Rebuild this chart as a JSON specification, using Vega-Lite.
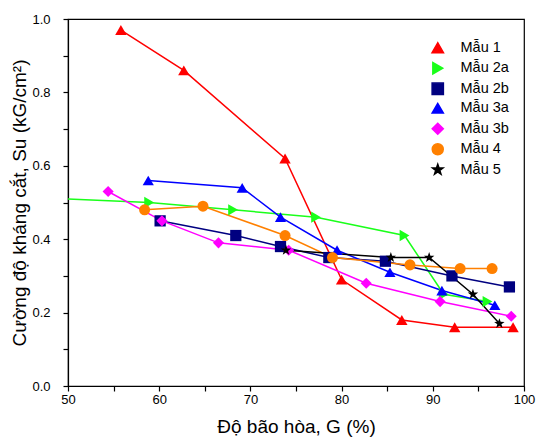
{
  "$schema": "https://vega.github.io/schema/vega-lite/v6.json",
  "width": 456,
  "height": 367,
  "autosize": "none",
  "padding": {"left": 68, "top": 19, "right": 14, "bottom": 53},
  "background": "white",
  "config": {
    "font": "Liberation Sans",
    "view": {"stroke": "black", "strokeWidth": 1.2},
    "axis": {"domainColor": "black", "labelColor": "black", "titleColor": "black", "grid": false, "labelFont": "Liberation Sans", "titleFont": "Liberation Sans", "labelFontSize": 13, "titleFontSize": 19, "titleFontWeight": "normal", "domainWidth": 1.2}
  },
  "data": {"values": [
    {"s": "Mẫu 1", "g": 55.8, "su": 0.97},
    {"s": "Mẫu 1", "g": 62.7, "su": 0.86},
    {"s": "Mẫu 1", "g": 73.8, "su": 0.62},
    {"s": "Mẫu 1", "g": 80.0, "su": 0.29},
    {"s": "Mẫu 1", "g": 86.6, "su": 0.18},
    {"s": "Mẫu 1", "g": 92.4, "su": 0.16},
    {"s": "Mẫu 1", "g": 98.8, "su": 0.16},
    {"s": "Mẫu 2a", "g": 45.0, "su": 0.515},
    {"s": "Mẫu 2a", "g": 58.9, "su": 0.50},
    {"s": "Mẫu 2a", "g": 68.1, "su": 0.48},
    {"s": "Mẫu 2a", "g": 77.2, "su": 0.46},
    {"s": "Mẫu 2a", "g": 86.9, "su": 0.41},
    {"s": "Mẫu 2a", "g": 91.2, "su": 0.25},
    {"s": "Mẫu 2a", "g": 96.0, "su": 0.23},
    {"s": "Mẫu 2b", "g": 60.1, "su": 0.45},
    {"s": "Mẫu 2b", "g": 68.4, "su": 0.41},
    {"s": "Mẫu 2b", "g": 73.3, "su": 0.38},
    {"s": "Mẫu 2b", "g": 78.6, "su": 0.35},
    {"s": "Mẫu 2b", "g": 84.8, "su": 0.34},
    {"s": "Mẫu 2b", "g": 92.1, "su": 0.30},
    {"s": "Mẫu 2b", "g": 98.4, "su": 0.27},
    {"s": "Mẫu 3a", "g": 58.8, "su": 0.56},
    {"s": "Mẫu 3a", "g": 69.1, "su": 0.54},
    {"s": "Mẫu 3a", "g": 73.3, "su": 0.46},
    {"s": "Mẫu 3a", "g": 79.5, "su": 0.37},
    {"s": "Mẫu 3a", "g": 85.3, "su": 0.31},
    {"s": "Mẫu 3a", "g": 91.0, "su": 0.26},
    {"s": "Mẫu 3a", "g": 96.8, "su": 0.22},
    {"s": "Mẫu 3b", "g": 54.4, "su": 0.53},
    {"s": "Mẫu 3b", "g": 60.3, "su": 0.45},
    {"s": "Mẫu 3b", "g": 66.5, "su": 0.39},
    {"s": "Mẫu 3b", "g": 74.2, "su": 0.37},
    {"s": "Mẫu 3b", "g": 82.7, "su": 0.28},
    {"s": "Mẫu 3b", "g": 90.8, "su": 0.23},
    {"s": "Mẫu 3b", "g": 98.6, "su": 0.19},
    {"s": "Mẫu 4", "g": 58.4, "su": 0.48},
    {"s": "Mẫu 4", "g": 64.8, "su": 0.49},
    {"s": "Mẫu 4", "g": 73.8, "su": 0.41},
    {"s": "Mẫu 4", "g": 79.0, "su": 0.35},
    {"s": "Mẫu 4", "g": 87.5, "su": 0.33},
    {"s": "Mẫu 4", "g": 93.0, "su": 0.32},
    {"s": "Mẫu 4", "g": 96.5, "su": 0.32},
    {"s": "Mẫu 5", "g": 73.9, "su": 0.37},
    {"s": "Mẫu 5", "g": 85.4, "su": 0.35},
    {"s": "Mẫu 5", "g": 89.6, "su": 0.35},
    {"s": "Mẫu 5", "g": 94.4, "su": 0.25},
    {"s": "Mẫu 5", "g": 97.3, "su": 0.17}
  ]},
  "layer": [
    {
      "mark": {"type": "line", "clip": true, "strokeWidth": 1.5},
      "encoding": {
        "x": {"field": "g", "type": "quantitative", "scale": {"domain": [50, 100], "nice": false, "zero": false},
          "axis": {"orient": "bottom", "title": "Độ bão hòa, G (%)", "tickCount": 10,
            "labelExpr": "datum.value % 10 === 0 ? datum.label : ''",
            "ticks": true, "tickSize": 5, "tickColor": "#000000", "tickWidth": 1.2,
            "labelPadding": 2, "titlePadding": 11, "labelFlush": false,
            "encode": {"ticks": {"update": {"y2": {"signal": "datum.value % 10 === 0 ? -5 : -3"}}}}}},
        "y": {"field": "su", "type": "quantitative", "scale": {"domain": [0, 1], "nice": false},
          "axis": {"orient": "left", "title": "Cường độ kháng cắt, Su (kG/cm²)", "tickCount": 10,
            "format": ".1f", "labelExpr": "round(datum.value*10) % 2 === 0 ? datum.label : ''",
            "ticks": true, "tickSize": 5, "tickColor": "#000000", "tickWidth": 1.2,
            "labelPadding": 13, "titlePadding": 2,
            "encode": {"ticks": {"update": {"x2": {"signal": "round(datum.value*10) % 2 === 0 ? 5 : 3"}}}}}},
        "stroke": {"field": "s", "type": "nominal",
          "scale": {"domain": ["Mẫu 1", "Mẫu 2a", "Mẫu 2b", "Mẫu 3a", "Mẫu 3b", "Mẫu 4", "Mẫu 5"],
            "range": ["#ff0000", "#1aff1a", "#000080", "#0000ff", "#ff00ff", "#ff8000", "#000000"]},
          "legend": {"orient": "none", "legendX": 362.5, "legendY": 21.5, "title": null, "padding": 0,
            "symbolSize": 100, "symbolStrokeWidth": 1.5, "symbolOpacity": 1,
            "labelFontSize": 14.5, "labelFont": "Liberation Sans", "labelColor": "black", "labelOffset": 15.5, "rowPadding": 2.5,
            "encode": {"symbols": {"update": {
              "shape": {"signal": "['M-3.7,0H3.7M0,-0.85L-1.2,0.75L1.2,0.75Z','M-3.7,0H3.7M0.9,0L-0.9,-1L-0.9,1Z','M-3.7,0H3.7M-0.8,-0.8H0.8V0.8H-0.8Z','M-3.7,0H3.7M0,-0.85L-1.2,0.75L1.2,0.75Z','M-3.7,0H3.7M-1,0L0,-1L1,0L0,1Z','M-3.7,0H3.7M0.9,0A0.9,0.9,0,1,1,-0.9,0A0.9,0.9,0,1,1,0.9,0Z','M-3.7,0H3.7M0,-1L0.235,-0.324L0.951,-0.309L0.380,0.124L0.588,0.809L0,0.4L-0.588,0.809L-0.380,0.124L-0.951,-0.309L-0.235,-0.324Z'][indexof(['Mẫu 1','Mẫu 2a','Mẫu 2b','Mẫu 3a','Mẫu 3b','Mẫu 4','Mẫu 5'], datum.value)]"},
              "fill": {"signal": "['#ff0000','#1aff1a','#000080','#0000ff','#ff00ff','#ff8000','#000000'][indexof(['Mẫu 1','Mẫu 2a','Mẫu 2b','Mẫu 3a','Mẫu 3b','Mẫu 4','Mẫu 5'], datum.value)]"},
              "stroke": {"signal": "['#ff0000','#1aff1a','#000080','#0000ff','#ff00ff','#ff8000','#000000'][indexof(['Mẫu 1','Mẫu 2a','Mẫu 2b','Mẫu 3a','Mẫu 3b','Mẫu 4','Mẫu 5'], datum.value)]"},
              "strokeWidth": {"value": 1.5},
              "strokeOpacity": {"value": 1},
              "fillOpacity": {"value": 1},
              "size": {"value": 100},
              "opacity": {"value": 1}
            }}}}}
      }
    },
    {
      "mark": {"type": "point", "clip": true, "filled": true, "opacity": 1, "strokeWidth": 0},
      "encoding": {
        "x": {"field": "g", "type": "quantitative"},
        "y": {"field": "su", "type": "quantitative"},
        "fill": {"field": "s", "type": "nominal",
          "scale": {"domain": ["Mẫu 1", "Mẫu 2a", "Mẫu 2b", "Mẫu 3a", "Mẫu 3b", "Mẫu 4", "Mẫu 5"],
            "range": ["#ff0000", "#1aff1a", "#000080", "#0000ff", "#ff00ff", "#ff8000", "#000000"]},
          "legend": null},
        "shape": {"field": "s", "type": "nominal",
          "scale": {"domain": ["Mẫu 1", "Mẫu 2a", "Mẫu 2b", "Mẫu 3a", "Mẫu 3b", "Mẫu 4", "Mẫu 5"],
            "range": ["triangle-up", "triangle-right", "square", "triangle-up", "diamond", "circle", "M0,-1L0.235,-0.324L0.951,-0.309L0.380,0.124L0.588,0.809L0,0.4L-0.588,0.809L-0.380,0.124L-0.951,-0.309L-0.235,-0.324Z"]},
          "legend": null},
        "size": {"field": "s", "type": "nominal",
          "scale": {"domain": ["Mẫu 1", "Mẫu 2a", "Mẫu 2b", "Mẫu 3a", "Mẫu 3b", "Mẫu 4", "Mẫu 5"],
            "range": [130, 120, 60, 130, 100, 65, 100]},
          "legend": null}
      }
    }
  ]
}
